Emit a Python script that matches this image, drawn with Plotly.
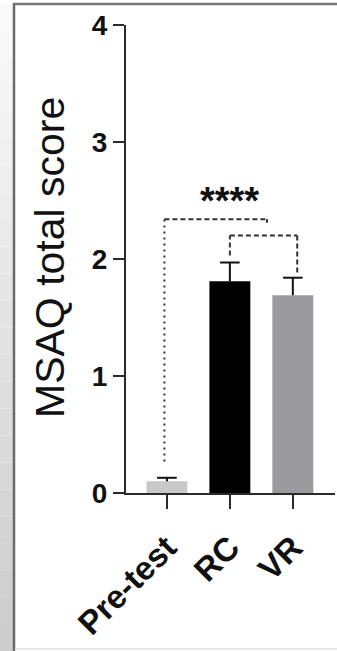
import plotly.graph_objects as go

# ---- data ----
categories = ["Pre-test", "RC", "VR"]
means = [0.10, 1.81, 1.69]
sem = [0.03, 0.16, 0.15]
bar_colors = ["#c9c9c9", "#000000", "#9b9b9f"]
y_ticks = [0, 1, 2, 3, 4]
y_title = "MSAQ total score"
sig_label = "****"
# significance brackets: (x_left, x_right, y_left_bottom, y_top, y_right_bottom)
bracket_big = (-0.04, 1.59, 0.27, 2.34, 2.31)
bracket_small = (1.0, 2.07, 2.03, 2.20, 1.86)
sig_pos = (1.0, 2.50)

W, H = 337, 651
L, R, T, B = 126, 2, 25, 158
PW, PH = W - L - R, H - T - B


def px(x):
    return (x - L) / PW


def py(y):
    return (H - B - y) / PH


FONT = "Liberation Sans, Arial, Helvetica, sans-serif"
AX = "#2b2b2b"
xs = list(range(len(categories)))

fig = go.Figure()
fig.add_trace(go.Bar(
    x=xs, y=means,
    marker=dict(color=bar_colors, line=dict(width=0)),
    width=0.65, showlegend=False, hoverinfo="skip",
))

# upper-only error bars: stem + cap, from the data arrays
stem_x, stem_y = [], []
for i, (m, s) in enumerate(zip(means, sem)):
    stem_x += [i, i, None]
    stem_y += [m, m + s, None]
fig.add_trace(go.Scatter(
    x=stem_x, y=stem_y, mode="lines",
    line=dict(color="#111111", width=2), showlegend=False, hoverinfo="skip",
))
fig.add_trace(go.Scatter(
    x=xs, y=[m + s for m, s in zip(means, sem)], mode="markers",
    marker=dict(symbol="line-ew", size=14,
                line=dict(color="#111111", width=2)),
    showlegend=False, hoverinfo="skip",
))

shapes = []
# frame-like decorations (screenshot border)
n = 24
for i in range(n):
    y0 = 4 + (H - 4) * i / n
    y1 = 4 + (H - 4) * (i + 1) / n
    g = int(250 - 45 * i / (n - 1))
    shapes.append(dict(type="rect", xref="paper", yref="paper",
                       x0=px(0), x1=px(13), y0=py(y1), y1=py(y0),
                       fillcolor=f"rgb({g},{g},{g})", line=dict(width=0),
                       layer="below"))
shapes.append(dict(type="line", xref="paper", yref="paper",
                   x0=px(14), x1=px(14), y0=py(3), y1=py(H),
                   line=dict(color="#6a6a6a", width=2.5)))
shapes.append(dict(type="line", xref="paper", yref="paper",
                   x0=px(13), x1=px(W), y0=py(4), y1=py(4),
                   line=dict(color="#777777", width=2.5)))
shapes.append(dict(type="line", xref="paper", yref="paper",
                   x0=px(15), x1=px(W), y0=py(649), y1=py(649),
                   line=dict(color="#e6e6e6", width=2)))

DOT = "2px,4px"
DASH = "5px,3px"


def bracket(b, left_dash):
    xl, xr, yl, yt, yr = b
    return [
        dict(type="line", x0=xl, x1=xl, y0=yl, y1=yt,
             line=dict(color="#333333", width=2, dash=left_dash)),
        dict(type="line", x0=xl, x1=xr, y0=yt, y1=yt,
             line=dict(color="#333333", width=2, dash=DASH)),
        dict(type="line", x0=xr, x1=xr, y0=yt, y1=yr,
             line=dict(color="#333333", width=2, dash=DASH)),
    ]


shapes += bracket(bracket_big, DOT)
shapes += bracket(bracket_small, DASH)

fig.update_layout(
    width=W, height=H,
    margin=dict(l=L, r=R, t=T, b=B),
    paper_bgcolor="white", plot_bgcolor="white",
    font=dict(family=FONT, color="#111111"),
    shapes=shapes,
    xaxis=dict(range=[-0.65, 2.67], tickmode="array",
               tickvals=xs, ticktext=categories,
               tickangle=-45, showline=True, linecolor=AX, linewidth=2,
               ticks="outside", ticklen=14, tickwidth=2, tickcolor=AX,
               ticklabelstandoff=6,
               showgrid=False, zeroline=False,
               tickfont=dict(size=33, family=FONT, weight="bold",
                             color="#111111")),
    yaxis=dict(range=[0, 4], tickmode="array", tickvals=y_ticks,
               showline=True, linecolor=AX, linewidth=2,
               ticks="outside", ticklen=11, tickwidth=2, tickcolor=AX,
               showgrid=False, zeroline=False,
               tickfont=dict(size=28, family=FONT, weight="bold",
                             color="#111111")),
    annotations=[
        dict(text=y_title, xref="paper", yref="paper", x=px(50), y=py(258),
             textangle=-90, showarrow=False, xanchor="center",
             yanchor="middle",
             font=dict(size=41, family=FONT, color="#111111")),
        dict(text=sig_label, x=sig_pos[0], y=sig_pos[1], xref="x", yref="y",
             showarrow=False, xanchor="center", yanchor="middle",
             font=dict(size=38, family=FONT, weight="bold",
                       color="#111111")),
    ],
)

fig.write_html(
    "out.html",
    config={"displayModeBar": False},
    post_script="document.body.style.margin='0';"
                "document.body.style.overflow='hidden';"
                "document.documentElement.style.overflow='hidden';",
)
